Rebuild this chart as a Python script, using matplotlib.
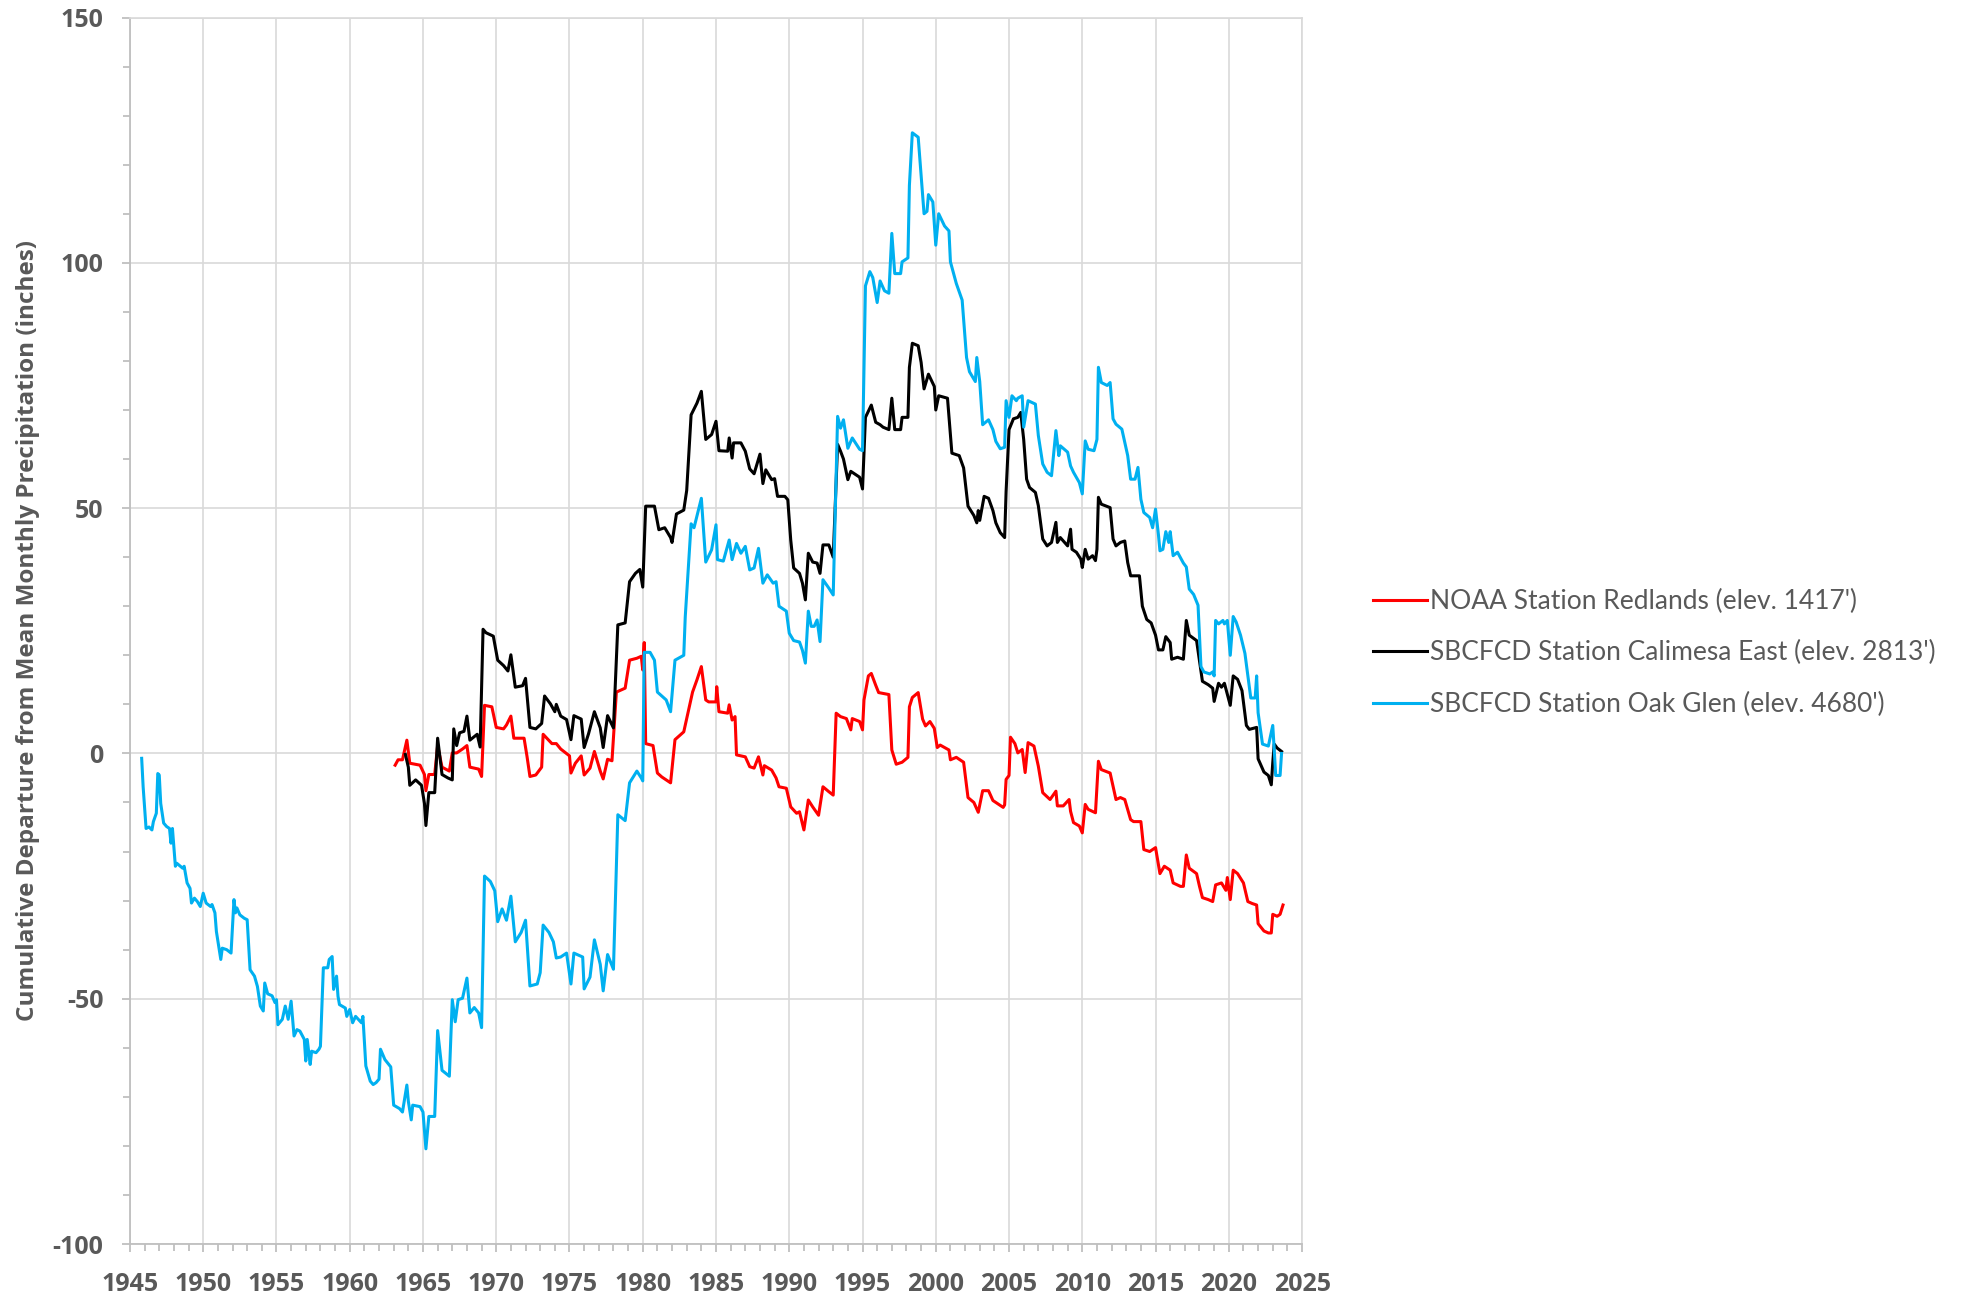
import matplotlib
matplotlib.use('Agg')
import matplotlib.pyplot as plt
from matplotlib.ticker import MultipleLocator

# NOAA Station Redlands (elev. 1417')
red_year = [1963.1, 1963.3, 1963.6, 1963.9, 1964.1, 1964.8, 1965.1, 1965.2, 1965.4, 1965.8,
            1966.0, 1966.3, 1966.8, 1967.0, 1967.3, 1967.7, 1968.0, 1968.2, 1968.8, 1969.0,
            1969.2, 1969.7, 1970.0, 1970.5, 1970.7, 1971.0, 1971.2, 1971.9, 1972.1, 1972.3,
            1972.7, 1973.1, 1973.2, 1973.8, 1974.1, 1974.4, 1975.0, 1975.1, 1975.4, 1975.8,
            1976.0, 1976.4, 1976.7, 1977.1, 1977.3, 1977.6, 1977.9, 1978.2, 1978.8, 1979.1,
            1979.6, 1979.9, 1980.0, 1980.1, 1980.2, 1980.7, 1981.0, 1981.3, 1981.9, 1982.2,
            1982.8, 1983.1, 1983.4, 1983.7, 1984.0, 1984.3, 1984.5, 1985.0, 1985.05, 1985.2,
            1985.8, 1985.9, 1986.1, 1986.3, 1986.4, 1987.0, 1987.3, 1987.6, 1987.9, 1988.2,
            1988.3, 1988.8, 1989.1, 1989.3, 1989.8, 1990.1, 1990.5, 1990.7, 1991.0, 1991.3,
            1991.6, 1992.0, 1992.3, 1992.7, 1993.0, 1993.2, 1993.5, 1993.9, 1994.2, 1994.3,
            1994.8, 1995.0, 1995.1, 1995.4, 1995.6, 1995.9, 1996.1, 1996.8, 1997.0, 1997.3,
            1997.7, 1998.1, 1998.2, 1998.4, 1998.8, 1999.1, 1999.3, 1999.6, 1999.9, 2000.1,
            2000.3, 2000.9, 2001.0, 2001.4, 2001.9, 2002.2, 2002.6, 2002.9, 2003.2, 2003.6,
            2003.9, 2004.1, 2004.6, 2004.7, 2004.8, 2005.0, 2005.1, 2005.4, 2005.6, 2005.9,
            2006.1, 2006.3, 2006.7, 2007.0, 2007.3, 2007.8, 2008.2, 2008.3, 2008.7, 2009.1,
            2009.2, 2009.4, 2009.8, 2010.0, 2010.2, 2010.4, 2010.9, 2011.1, 2011.3, 2011.9,
            2012.3, 2012.6, 2012.9, 2013.3, 2013.5, 2014.0, 2014.2, 2014.6, 2015.0, 2015.3,
            2015.6, 2016.0, 2016.2, 2016.7, 2016.9, 2017.1, 2017.3, 2017.8, 2018.0, 2018.2,
            2018.6, 2018.9, 2019.1, 2019.5, 2019.8, 2019.9, 2020.1, 2020.3, 2020.6, 2021.0,
            2021.3, 2021.6, 2021.9, 2022.0, 2022.4, 2022.7, 2022.9, 2023.0, 2023.3, 2023.5,
            2023.7]
red_dep = [-2.4, -1.3, -1.3, 2.7, -2.0, -2.4, -4.3, -7.6, -4.3, -4.3,
           1.6, -2.8, -3.6, 0.1, 0.1, 0.9, 1.6, -2.8, -3.2, -4.7,
           9.8, 9.5, 5.3, 5.0, 5.8, 7.6, 3.1, 3.1, -0.6, -4.7,
           -4.4, -2.8, 3.9, 2.0, 2.0, 0.9, -0.5, -4.0, -2.0, -0.5,
           -4.4, -3.0, 0.4, -3.6, -5.2, -1.2, -1.5, 12.5, 13.3, 19.0,
           19.4, 19.8, 17.0, 22.6, 2.0, 1.6, -4.0, -4.8, -6.0, 2.8,
           4.4, 8.5, 12.5, 15.0, 17.7, 10.9, 10.5, 10.5, 13.6, 8.5,
           8.2, 9.9, 6.8, 7.5, -0.3, -0.7, -2.7, -3.0, -0.7, -4.4,
           -2.5, -3.4, -5.0, -6.8, -7.1, -10.9, -12.2, -11.9, -15.6, -9.5,
           -10.9, -12.6, -6.8, -7.8, -8.5, 8.2, 7.5, 7.1, 4.8, 7.1,
           6.5, 4.8, 10.9, 15.8, 16.3, 13.9, 12.4, 12.0, 0.7, -2.2,
           -1.8, -0.8, 9.5, 11.4, 12.4, 7.0, 5.6, 6.5, 5.1, 1.2,
           1.7, 0.7, -1.3, -0.8, -1.8, -9.0, -10.0, -12.0, -7.6, -7.6,
           -9.6, -10.0, -11.0, -10.5, -5.3, -4.5, 3.3, 2.0, 0.1, 0.8,
           -3.9, 2.2, 1.5, -2.6, -8.0, -9.4, -7.7, -10.7, -10.7, -9.4,
           -11.8, -14.1, -14.8, -16.2, -10.4, -11.4, -12.1, -1.6, -3.3, -4.0,
           -9.4, -9.0, -9.4, -13.5, -13.9, -13.9, -19.6, -20.0, -19.2, -24.5,
           -23.0, -23.8, -26.4, -27.1, -27.1, -20.7, -23.4, -24.5, -27.1, -29.4,
           -29.8, -30.2, -26.8, -26.4, -27.9, -25.3, -29.8, -23.8, -24.5, -26.4,
           -30.2, -30.6, -30.9, -34.7, -36.2, -36.6, -36.6, -32.8, -33.2, -32.8,
           -30.9]

# SBCFCD Station Calimesa East (elev. 2813')
black_year = [1963.8, 1964.0, 1964.1, 1964.5, 1964.9, 1965.1, 1965.2, 1965.4, 1965.8, 1966.0,
              1966.3, 1966.7, 1967.0, 1967.1, 1967.3, 1967.5, 1967.8, 1968.0, 1968.2, 1968.7,
              1968.9, 1969.1, 1969.3, 1969.8, 1970.1, 1970.5, 1970.8, 1971.0, 1971.3, 1971.8,
              1972.0, 1972.3, 1972.7, 1973.1, 1973.3, 1973.7, 1974.0, 1974.1, 1974.4, 1974.8,
              1975.1, 1975.3, 1975.8, 1976.0, 1976.3, 1976.7, 1977.1, 1977.3, 1977.6, 1978.0,
              1978.3, 1978.8, 1979.1, 1979.5, 1979.8, 1980.0, 1980.2, 1980.8, 1981.1, 1981.5,
              1981.9, 1982.0, 1982.3, 1982.8, 1983.0, 1983.3, 1983.7, 1984.0, 1984.3, 1984.7,
              1985.0, 1985.2, 1985.8, 1985.9, 1986.1, 1986.2, 1986.7, 1987.0, 1987.3, 1987.6,
              1988.0, 1988.2, 1988.4, 1988.8, 1989.0, 1989.2, 1989.7, 1989.9, 1990.1, 1990.3,
              1990.7, 1990.9, 1991.1, 1991.3, 1991.6, 1991.9, 1992.1, 1992.3, 1992.7, 1993.0,
              1993.3, 1993.5, 1993.7, 1994.0, 1994.2, 1994.8, 1995.0, 1995.2, 1995.6, 1995.9,
              1996.2, 1996.4, 1996.8, 1997.0, 1997.2, 1997.6, 1997.7, 1998.1, 1998.2, 1998.4,
              1998.8, 1999.0, 1999.2, 1999.5, 1999.9, 2000.0, 2000.2, 2000.8, 2001.0, 2001.1,
              2001.6, 2001.9, 2002.2, 2002.6, 2002.8, 2002.9, 2003.0, 2003.3, 2003.6, 2003.9,
              2004.1, 2004.4, 2004.7, 2004.8, 2005.0, 2005.3, 2005.6, 2005.8, 2006.0, 2006.2,
              2006.4, 2006.8, 2007.0, 2007.3, 2007.6, 2007.9, 2008.2, 2008.3, 2008.5, 2008.8,
              2009.0, 2009.2, 2009.3, 2009.6, 2009.9, 2010.0, 2010.2, 2010.4, 2010.7, 2010.9,
              2011.0, 2011.1, 2011.3, 2011.9, 2012.1, 2012.3, 2012.6, 2012.9, 2013.1, 2013.3,
              2013.9, 2014.1, 2014.4, 2014.7, 2015.0, 2015.2, 2015.5, 2015.7, 2016.0, 2016.1,
              2016.5, 2016.9, 2017.1, 2017.3, 2017.8, 2018.0, 2018.2, 2018.6, 2018.9, 2019.0,
              2019.3, 2019.5, 2019.7, 2020.1, 2020.3, 2020.6, 2020.9, 2021.2, 2021.4, 2021.9,
              2022.0, 2022.4, 2022.7, 2022.9, 2023.0, 2023.1, 2023.3, 2023.6]
black_dep = [-0.2, -2.8, -6.5, -5.4, -6.5, -10.2, -14.7, -8.0, -8.0, 3.1,
             -4.3, -5.0, -5.4, 5.0, 1.6, 4.2, 4.5, 7.6, 2.7, 3.9,
             1.3, 25.3, 24.6, 23.9, 19.0, 17.9, 16.8, 20.1, 13.5, 13.8,
             15.3, 5.3, 5.0, 6.1, 11.7, 10.1, 8.5, 10.0, 7.6, 6.9,
             2.8, 7.7, 7.0, 1.2, 4.0, 8.5, 5.2, 1.2, 7.7, 5.2,
             26.2, 26.6, 35.0, 36.7, 37.5, 33.9, 50.4, 50.4, 45.6, 46.0,
             44.0, 43.0, 48.8, 49.6, 53.6, 69.0, 71.4, 73.8, 64.0, 65.0,
             67.7, 61.7, 61.6, 64.3, 60.2, 63.3, 63.3, 61.6, 58.0, 57.0,
             61.0, 55.0, 57.8, 55.8, 56.0, 52.4, 52.4, 51.7, 43.5, 37.8,
             36.7, 34.7, 31.3, 40.8, 39.0, 38.8, 36.7, 42.5, 42.5, 40.0,
             63.0, 61.6, 60.0, 55.8, 57.5, 56.3, 53.9, 68.5, 71.0, 67.5,
             67.0, 66.5, 66.0, 72.4, 66.0, 66.0, 68.5, 68.5, 78.7, 83.6,
             83.1, 79.7, 74.3, 77.3, 74.8, 70.0, 72.9, 72.4, 65.0, 61.2,
             60.7, 58.2, 50.4, 48.5, 47.0, 49.5, 47.5, 52.4, 52.0, 49.5,
             47.0, 45.0, 44.0, 53.4, 66.0, 68.2, 68.5, 69.5, 64.0, 55.9,
             54.2, 53.2, 50.5, 43.7, 42.3, 43.0, 47.1, 43.0, 44.0, 43.0,
             42.3, 45.7, 41.6, 41.0, 39.6, 37.9, 41.6, 39.6, 40.3, 39.3,
             41.6, 52.2, 50.8, 50.1, 43.7, 42.3, 43.0, 43.3, 38.9, 36.2,
             36.2, 30.0, 27.3, 26.6, 24.1, 21.1, 21.1, 23.8, 22.6, 19.2,
             19.6, 19.2, 27.1, 24.1, 23.0, 18.9, 14.7, 14.0, 13.3, 10.6,
             14.3, 13.5, 14.3, 9.8, 15.8, 15.1, 12.8, 5.7, 4.9, 5.3,
             -1.1, -3.8, -4.5, -6.4, -1.9, 1.9, 1.1, 0.4]

# SBCFCD Station Oak Glen (elev. 4680')
blue_year = [1945.8, 1945.9, 1946.1, 1946.3, 1946.5, 1946.6, 1946.8, 1946.9, 1947.0, 1947.1,
             1947.3, 1947.5, 1947.7, 1947.8, 1947.9, 1948.1, 1948.2, 1948.6, 1948.7, 1948.9,
             1949.1, 1949.2, 1949.4, 1949.6, 1949.8, 1950.0, 1950.2, 1950.5, 1950.6, 1950.8,
             1950.9, 1951.2, 1951.3, 1951.6, 1951.9, 1952.1, 1952.2, 1952.3, 1952.5, 1952.8,
             1953.0, 1953.2, 1953.5, 1953.7, 1953.9, 1954.1, 1954.2, 1954.4, 1954.7, 1954.9,
             1955.0, 1955.1, 1955.4, 1955.6, 1955.8, 1956.0, 1956.2, 1956.4, 1956.6, 1956.9,
             1957.0, 1957.1, 1957.3, 1957.4, 1957.7, 1957.9, 1958.0, 1958.2, 1958.5, 1958.6,
             1958.8, 1958.9, 1959.1, 1959.2, 1959.3, 1959.7, 1959.8, 1960.0, 1960.2, 1960.4,
             1960.8, 1960.9, 1961.1, 1961.4, 1961.6, 1961.8, 1962.0, 1962.1, 1962.4, 1962.8,
             1963.0, 1963.4, 1963.6, 1963.9, 1964.0, 1964.2, 1964.3, 1964.8, 1965.0, 1965.2,
             1965.4, 1965.8, 1966.0, 1966.3, 1966.8, 1967.0, 1967.2, 1967.4, 1967.7, 1968.0,
             1968.2, 1968.5, 1968.8, 1969.0, 1969.2, 1969.6, 1969.9, 1970.1, 1970.4, 1970.7,
             1971.0, 1971.3, 1971.7, 1972.0, 1972.3, 1972.8, 1973.0, 1973.2, 1973.6, 1973.9,
             1974.1, 1974.4, 1974.8, 1975.1, 1975.3, 1975.9, 1976.0, 1976.4, 1976.7, 1977.1,
             1977.3, 1977.6, 1978.0, 1978.3, 1978.8, 1979.1, 1979.6, 1979.9, 1980.0, 1980.1,
             1980.5, 1980.8, 1981.0, 1981.6, 1981.9, 1982.2, 1982.8, 1982.9, 1983.3, 1983.5,
             1984.0, 1984.3, 1984.7, 1985.0, 1985.1, 1985.5, 1985.9, 1986.1, 1986.4, 1986.7,
             1987.0, 1987.3, 1987.6, 1987.9, 1988.2, 1988.5, 1988.9, 1989.1, 1989.3, 1989.8,
             1990.0, 1990.3, 1990.7, 1990.9, 1991.1, 1991.3, 1991.5, 1991.7, 1991.9, 1992.1,
             1992.3, 1992.7, 1993.0, 1993.3, 1993.5, 1993.7, 1994.0, 1994.3, 1994.8, 1995.0,
             1995.2, 1995.5, 1995.7, 1996.0, 1996.2, 1996.5, 1996.8, 1997.0, 1997.2, 1997.6,
             1997.7, 1998.1, 1998.2, 1998.4, 1998.8, 1999.0, 1999.2, 1999.4, 1999.5, 1999.8,
             2000.0, 2000.2, 2000.6, 2000.9, 2001.0, 2001.4, 2001.8, 2002.1, 2002.3, 2002.7,
             2002.8, 2003.0, 2003.2, 2003.6, 2003.9, 2004.1, 2004.4, 2004.7, 2004.8, 2005.0,
             2005.2, 2005.5, 2005.6, 2005.9, 2006.0, 2006.3, 2006.8, 2007.0, 2007.3, 2007.6,
             2007.9, 2008.2, 2008.4, 2008.5, 2009.0, 2009.2, 2009.4, 2009.8, 2010.0, 2010.2,
             2010.4, 2010.8, 2011.0, 2011.1, 2011.3, 2011.7, 2011.9, 2012.1, 2012.3, 2012.7,
             2013.1, 2013.3, 2013.6, 2013.8, 2014.0, 2014.2, 2014.6, 2014.8, 2015.0, 2015.2,
             2015.3, 2015.5, 2015.7, 2015.9, 2016.0, 2016.2, 2016.5, 2016.9, 2017.1, 2017.3,
             2017.6, 2017.9, 2018.1, 2018.3, 2018.7, 2018.9, 2019.0, 2019.1, 2019.3, 2019.6,
             2019.7, 2019.9, 2020.1, 2020.3, 2020.5, 2020.8, 2021.1, 2021.3, 2021.5, 2021.8,
             2021.9, 2022.0, 2022.3, 2022.7, 2023.0, 2023.1, 2023.2, 2023.5, 2023.6]
blue_dep = [-1.0, -6.8, -15.3, -15.0, -15.6, -13.9, -12.2, -4.1, -4.4, -10.2,
            -14.2, -14.9, -15.3, -18.3, -15.3, -23.0, -22.4, -23.4, -23.0, -26.4,
            -27.5, -30.5, -29.5, -30.2, -31.2, -28.5, -30.5, -31.2, -30.8, -32.5,
            -36.3, -42.0, -39.7, -40.0, -40.7, -29.8, -32.5, -31.5, -32.9, -33.6,
            -33.9, -44.1, -45.4, -47.5, -51.5, -52.5, -46.8, -49.0, -49.4, -50.8,
            -50.2, -55.3, -54.2, -51.5, -54.2, -50.5, -57.6, -56.3, -56.6, -58.3,
            -62.7, -58.3, -63.4, -60.7, -61.0, -60.3, -59.7, -43.7, -43.7, -42.0,
            -41.4, -48.1, -45.4, -49.5, -51.2, -51.9, -53.6, -52.2, -54.9, -53.6,
            -54.9, -53.6, -63.7, -66.8, -67.5, -67.1, -66.4, -60.3, -62.4, -63.9,
            -71.7, -72.4, -73.1, -67.6, -70.9, -74.7, -71.7, -72.0, -73.1, -80.6,
            -74.0, -74.0, -56.5, -64.6, -65.8, -50.2, -54.7, -50.2, -49.9, -45.8,
            -52.9, -51.8, -52.9, -55.9, -25.0, -26.1, -28.0, -34.3, -31.7, -34.0,
            -29.1, -38.4, -36.5, -34.0, -47.4, -47.0, -44.7, -35.0, -36.5, -38.4,
            -41.7, -41.5, -40.7, -47.0, -40.7, -41.5, -48.0, -45.6, -38.0, -43.0,
            -48.4, -41.0, -44.0, -12.5, -13.7, -6.0, -3.6, -5.0, -5.6, 20.6,
            20.6, 19.0, 12.5, 10.9, 8.5, 19.0, 20.0, 27.8, 46.8, 46.0,
            52.0, 39.0, 41.5, 46.6, 39.5, 39.2, 43.5, 39.5, 42.8, 40.8,
            42.2, 37.4, 37.8, 41.8, 34.7, 36.4, 34.7, 35.0, 30.0, 29.0,
            24.5, 23.0, 22.7, 21.0, 18.4, 29.0, 25.9, 25.9, 27.2, 22.8,
            35.4, 33.7, 32.3, 68.7, 66.3, 68.0, 62.2, 64.3, 62.0, 61.7,
            95.3, 98.2, 97.0, 91.9, 96.3, 94.3, 93.8, 106.0, 97.8, 97.8,
            100.2, 101.0, 115.8, 126.5, 125.6, 117.8, 110.0, 110.5, 113.9, 112.4,
            103.6, 110.0, 107.5, 106.5, 100.2, 95.8, 92.4, 80.7, 77.8, 75.8,
            80.7, 75.8, 67.0, 68.0, 66.0, 63.6, 62.1, 62.4, 71.9, 68.5,
            72.9, 71.9, 72.4, 72.9, 66.5, 71.9, 71.2, 64.8, 59.0, 57.3,
            56.6, 65.8, 60.7, 62.7, 61.4, 58.6, 57.3, 55.2, 52.9, 63.7,
            62.0, 61.7, 64.0, 78.7, 75.6, 75.0, 75.6, 68.2, 67.1, 66.1,
            60.7, 55.9, 55.9, 58.3, 51.8, 49.1, 48.1, 46.0, 49.8, 44.5,
            41.3, 41.6, 45.2, 43.0, 45.2, 40.3, 41.0, 38.8, 38.0, 33.5,
            32.4, 30.2, 17.7, 16.6, 16.2, 16.6, 15.8, 27.1, 26.4, 27.1,
            26.4, 27.1, 20.0, 27.9, 26.8, 24.1, 20.4, 15.8, 11.3, 11.3,
            15.8, 8.3, 1.9, 1.5, 5.7, 0.8, -4.5, -4.5, 0.0]

labels = ["NOAA Station Redlands (elev. 1417')",
          "SBCFCD Station Calimesa East (elev. 2813')",
          "SBCFCD Station Oak Glen (elev. 4680')"]
colors = ['#ff0000', '#000000', '#00b0f0']

plt.rcParams['font.family'] = ['Open Sans', 'DejaVu Sans']
plt.rcParams['axes.unicode_minus'] = False
text_color = '#595959'
axis_color = '#bfbfbf'
grid_color = '#d9d9d9'

fig = plt.figure(figsize=(19.63, 12.98), dpi=100)
ax = fig.add_axes([0.0662, 0.0416, 0.5971, 0.9449])

series = [(red_year, red_dep), (black_year, black_dep), (blue_year, blue_dep)]
for (yr, dep), lab, col in zip(series, labels, colors):
    ax.plot(yr, dep, color=col, linewidth=2.2, label=lab, solid_joinstyle='round')

ax.set_xlim(1945, 2025)
ax.set_ylim(-100, 150)
ax.xaxis.set_major_locator(MultipleLocator(5))
ax.xaxis.set_minor_locator(MultipleLocator(1))
ax.yaxis.set_major_locator(MultipleLocator(50))
ax.yaxis.set_minor_locator(MultipleLocator(10))

ax.grid(True, which='major', color=grid_color, linewidth=1.2)
ax.set_axisbelow(True)

for side in ['left', 'bottom']:
    ax.spines[side].set_color(axis_color)
    ax.spines[side].set_linewidth(1.3)
for side in ['top', 'right']:
    ax.spines[side].set_color(grid_color)
    ax.spines[side].set_linewidth(1.2)

ax.tick_params(axis='both', which='major', direction='out', length=6, width=1.3,
               color=axis_color, labelsize=18, labelcolor=text_color)
ax.tick_params(axis='both', which='minor', direction='out', length=5, width=1.3,
               color=axis_color)
ax.tick_params(axis='y', which='major', pad=13)
ax.tick_params(axis='x', which='major', pad=14)
for lbl in ax.get_xticklabels() + ax.get_yticklabels():
    lbl.set_fontweight('bold')

ax.set_ylabel('Cumulative Departure from Mean Monthly Precipitation (inches)',
              fontsize=17.5, fontweight='bold', color=text_color)
ax.yaxis.set_label_coords(-0.077, 0.5)

leg = ax.legend(loc='center left', bbox_to_anchor=(0.6995, 0.497),
                bbox_transform=fig.transFigure, frameon=False,
                prop={'family': ['Lato', 'DejaVu Sans'], 'size': 19},
                handlelength=2.05, handletextpad=0.12, labelspacing=1.0,
                borderpad=0, borderaxespad=0, labelcolor=text_color)

fig.savefig('out.png', dpi=100)
